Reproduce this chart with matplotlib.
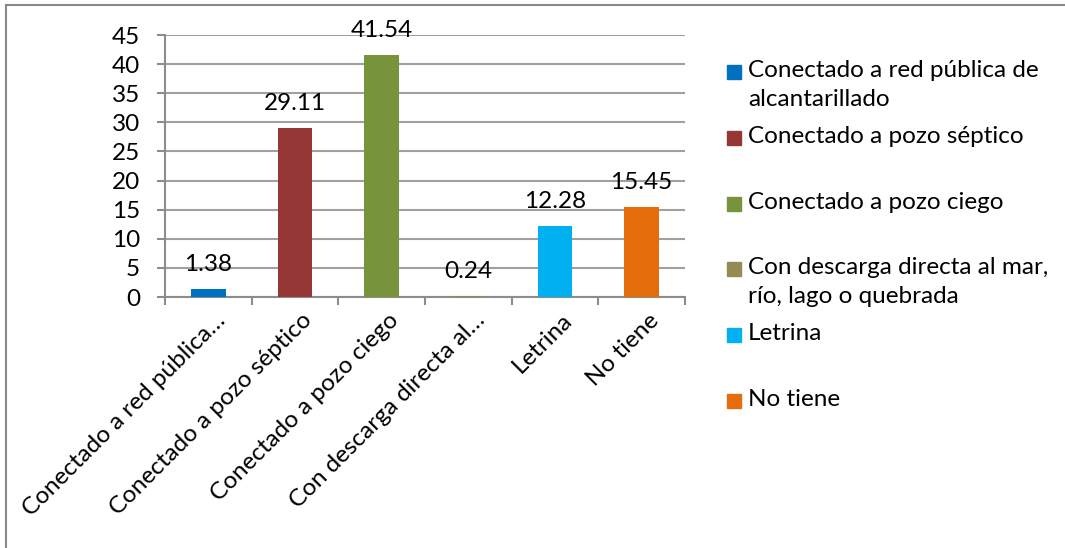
import matplotlib
matplotlib.use("Agg")
import matplotlib.pyplot as plt
import matplotlib.transforms as mtransforms
from matplotlib.patches import Rectangle
from matplotlib.lines import Line2D

plt.rcParams['font.family'] = ['Lato', 'DejaVu Sans']

categories = ["Conectado a red pública…", "Conectado a pozo séptico",
              "Conectado a pozo ciego", "Con descarga directa al…",
              "Letrina", "No tiene"]
legend_labels = ["Conectado a red pública de\nalcantarillado",
                 "Conectado a pozo séptico",
                 "Conectado a pozo ciego",
                 "Con descarga directa al mar,\nrío, lago o quebrada",
                 "Letrina",
                 "No tiene"]
values = [1.38, 29.11, 41.54, 0.24, 12.28, 15.45]
colors = ["#0070C0", "#953735", "#77933C", "#948A54", "#00B0F0", "#E46C0A"]

W, H = 1065, 548
fs = 17.5
fig = plt.figure(figsize=(W / 100, H / 100), dpi=100)
ax = fig.add_axes([165 / W, 1 - 297 / H, (685 - 165) / W, (297 - 35) / H])

x = range(len(values))
bars = ax.bar(x, values, width=0.4, color=colors, zorder=3)
ax.bar_label(bars, labels=[f"{v:.2f}" for v in values], padding=10, fontsize=fs)

ax.set_xlim(-0.5, len(values) - 0.5)
ax.set_ylim(0, 45)
ax.set_yticks(range(0, 50, 5))
ax.grid(axis='y', color='#A0A0A0', linewidth=1.5, zorder=0)

grey = '#8C8C8C'
for s in ['top', 'right']:
    ax.spines[s].set_visible(False)
for s in ['left', 'bottom']:
    ax.spines[s].set_color(grey)
    ax.spines[s].set_linewidth(1.5)

ax.tick_params(axis='y', length=6, width=1.5, color=grey, pad=12, labelsize=fs)
ax.set_xticks(list(x))
ax.set_xticklabels(categories, rotation=45, ha='right', rotation_mode='anchor',
                   fontsize=fs)
ax.tick_params(axis='x', which='major', length=0, pad=9)
shift = mtransforms.ScaledTranslation(6 / 100, 0, fig.dpi_scale_trans)
for lbl in ax.get_xticklabels():
    lbl.set_transform(lbl.get_transform() + shift)
ax.set_xticks([i - 0.5 for i in range(len(values) + 1)], minor=True)
ax.tick_params(axis='x', which='minor', length=6, width=1.5, color=grey)

# legend drawn by hand, Excel-style even slots
slot = 65.8
for i, (lab, col) in enumerate(zip(legend_labels, colors)):
    yc = 72 + i * slot
    fig.patches.append(Rectangle((727 / W, 1 - (yc + 7) / H), 14 / W, 14 / H,
                                 transform=fig.transFigure, color=col))
    fig.text(748 / W, 1 - (yc - 12) / H, lab, fontsize=fs, va='top',
             linespacing=1.45)

# outer chart border (only top and left are visible)
fig.add_artist(Line2D([6 / W, 1.01], [1 - 5 / H, 1 - 5 / H],
                      transform=fig.transFigure, color='#888888', lw=1.5))
fig.add_artist(Line2D([6 / W, 6 / W], [-0.01, 1 - 5 / H],
                      transform=fig.transFigure, color='#888888', lw=1.5))

fig.savefig("out.png", dpi=100)
